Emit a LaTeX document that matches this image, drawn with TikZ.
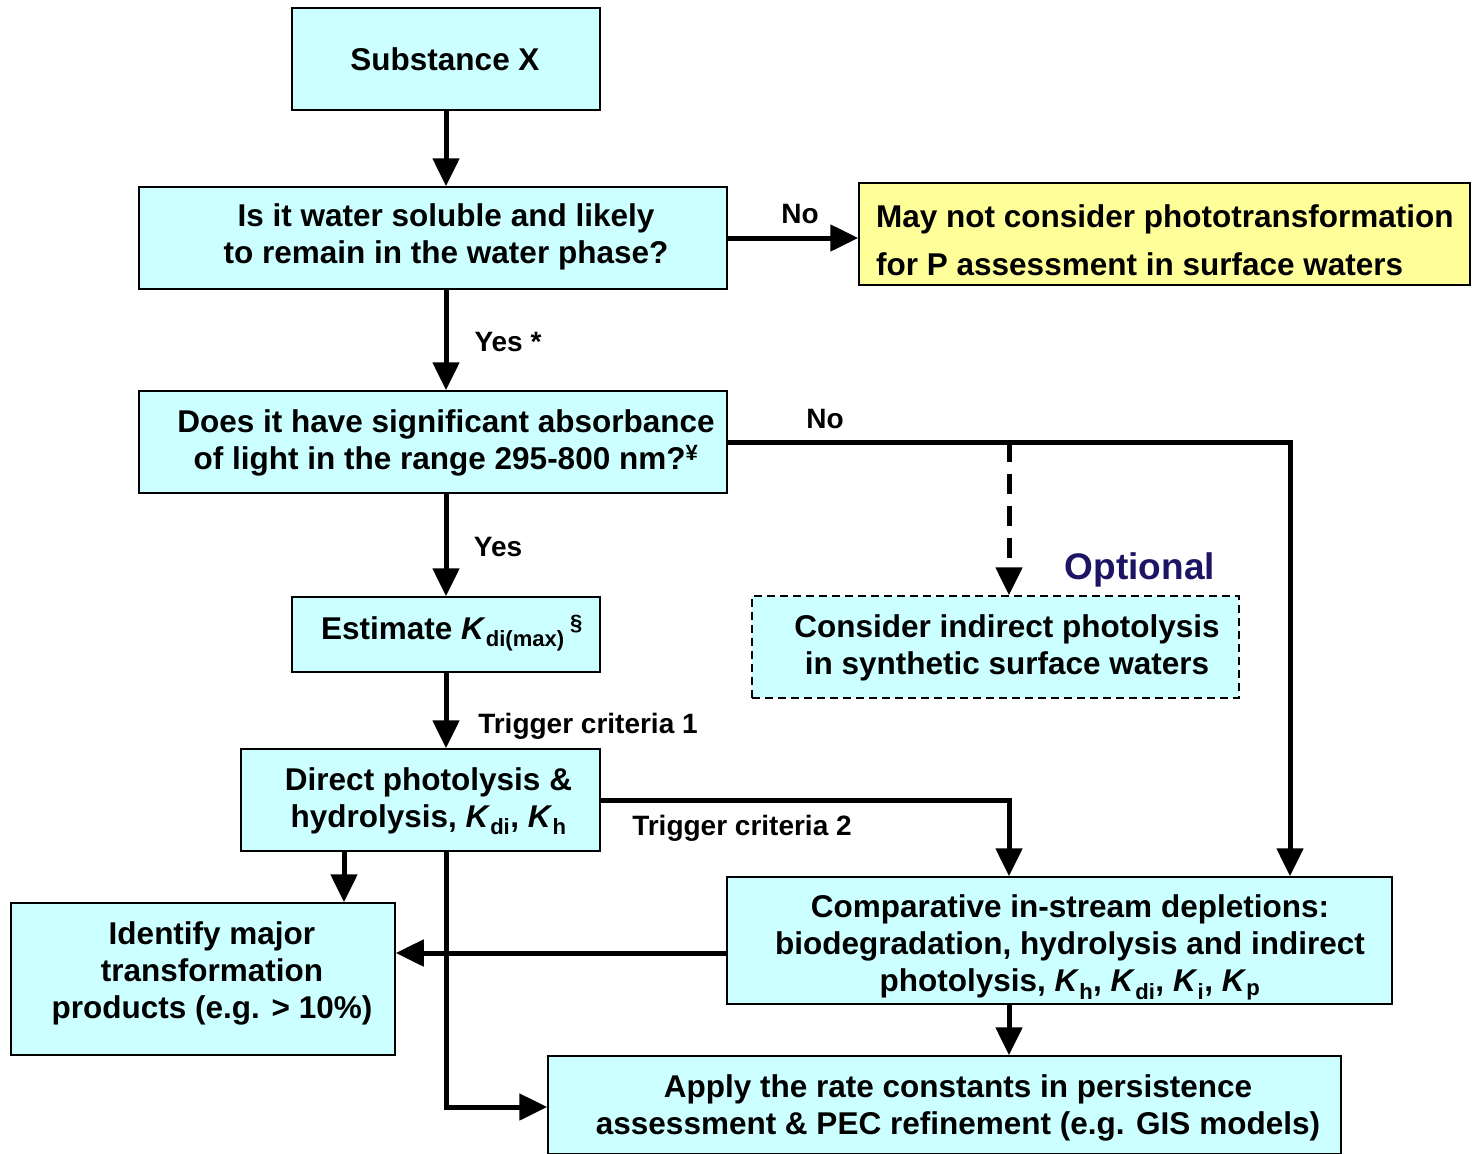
\documentclass[tikz,border=0pt]{standalone}
\usepackage{fontspec}
\setmainfont{Liberation Sans}
\usetikzlibrary{arrows.meta}
\definecolor{boxcyan}{HTML}{CCFFFF}
\definecolor{boxyellow}{HTML}{FFFF99}
\definecolor{optnavy}{HTML}{1E1464}
\newcommand{\K}[1]{\textit{K}\textsubscript{#1}}
\begin{document}
\begin{tikzpicture}[x=1pt,y=-1pt,
  box/.style={draw=black, line width=1.5pt, fill=boxcyan, inner sep=0pt},
  ybox/.style={box, fill=boxyellow},
  dbox/.style={box, dash pattern=on 8pt off 5pt},
  txt/.style={align=center, inner sep=0pt, font=\bfseries\fontsize{31.5}{37}\selectfont},
  lab/.style={font=\bfseries\fontsize{28}{32}\selectfont, inner sep=0pt},
  arr/.style={line width=5pt, -{Triangle[length=28pt,width=26pt]}}]
\useasboundingbox (0,0) rectangle (1473,1154);
% boxes
\node[box, minimum width=308, minimum height=102] (sub) at (446,59) {};
\node[box, minimum width=588, minimum height=102] (ws) at (433,238) {};
\node[ybox, minimum width=611, minimum height=102] (yel) at (1164.5,234) {};
\node[box, minimum width=588, minimum height=102] (abs) at (433,442) {};
\node[box, minimum width=308, minimum height=75] (est) at (446,634.5) {};
\node[box, minimum width=359, minimum height=102] (dir) at (420.5,800) {};
\node[box, minimum width=384, minimum height=152] (idf) at (203,979) {};
\node[box, minimum width=665, minimum height=127] (comp) at (1059.5,940.5) {};
\node[dbox, minimum width=487, minimum height=102] (ind) at (995.5,647) {};
\node[box, minimum width=793, minimum height=98] (app) at (944.5,1105) {};
% texts
\node[txt] (subt) at (445,59) {Substance X};
\node[txt] (wst) at (446,237) {Is it water soluble and likely\\to remain in the water phase?};
\node[txt, align=left, anchor=west] (yelt) at (876,240) {May not consider phototransformation\\[11pt]for P assessment in surface waters};
\node[txt] (abst) at (446,443) {Does it have significant absorbance\\of light in the range 295-800 nm?\textsuperscript{¥}};
\node[txt] (estt) at (452,633) {Estimate \K{di(max)}\,\textsuperscript{§}};
\node[txt] (dirt) at (428.5,801) {Direct photolysis \&\\hydrolysis, \K{di}, \K{h}};
\node[txt] (idft) at (212,973) {Identify major\\transformation\\products (e.g. > 10\%)};
\node[txt] (compt) at (1070,947.5) {Comparative in-stream depletions:\\biodegradation, hydrolysis and indirect\\photolysis, \K{h}, \K{di}, \K{i}, \K{p}};
\node[txt] (indt) at (1007,648) {Consider indirect photolysis\\in synthetic surface waters};
\node[txt] (appt) at (958,1108) {Apply the rate constants in persistence\\assessment \& PEC refinement (e.g. GIS models)};
\node[font=\bfseries\fontsize{37}{42}\selectfont, text=optnavy, inner sep=0pt] (opt) at (1140,570) {Optional};
% labels
\node[lab] (no1) at (800,214) {No};
\node[lab] (yes1) at (508,342) {Yes *};
\node[lab] (yes2) at (498,547) {Yes};
\node[lab] (no2) at (825,419) {No};
\node[lab] (tc1) at (588,726) {Trigger criteria 1};
\node[lab] (tc2) at (742,828) {Trigger criteria 2};
% coordinates
\coordinate (c1) at (1290,442);
\coordinate (c2) at (1009,442);
\coordinate (c3) at (1009,800);
\coordinate (d1) at (344,851);
\coordinate (d2) at (446,1107);
\coordinate (d3) at (727,953);
\coordinate (d4) at (446,289);
% connectors
\draw[arr] (sub.south) -- (sub.south |- ws.north);
\draw[arr] (ws.east) -- (ws.east -| yel.west);
\draw[arr] (d4) -- (d4 |- abs.north);
\draw[arr] (abs.south -| sub.south) -- (est.north);
\draw[arr] (abs.east) -- (c1) -- (c1 |- comp.north);
\draw[arr, dash pattern=on 20pt off 12pt] (c2) -- (c2 |- ind.north);
\draw[arr] (est.south) -- (est.south |- dir.north);
\draw[arr] (dir.east) -- (c3) -- (c3 |- comp.north);
\draw[arr] (d1) -- (d1 |- idf.north);
\draw[arr] (d2 |- dir.south) -- (d2) -- (d2 -| app.west);
\draw[arr] (d3) -- (d3 -| idf.east);
\draw[arr] (c3 |- comp.south) -- (c3 |- app.north);
\end{tikzpicture}
\end{document}
